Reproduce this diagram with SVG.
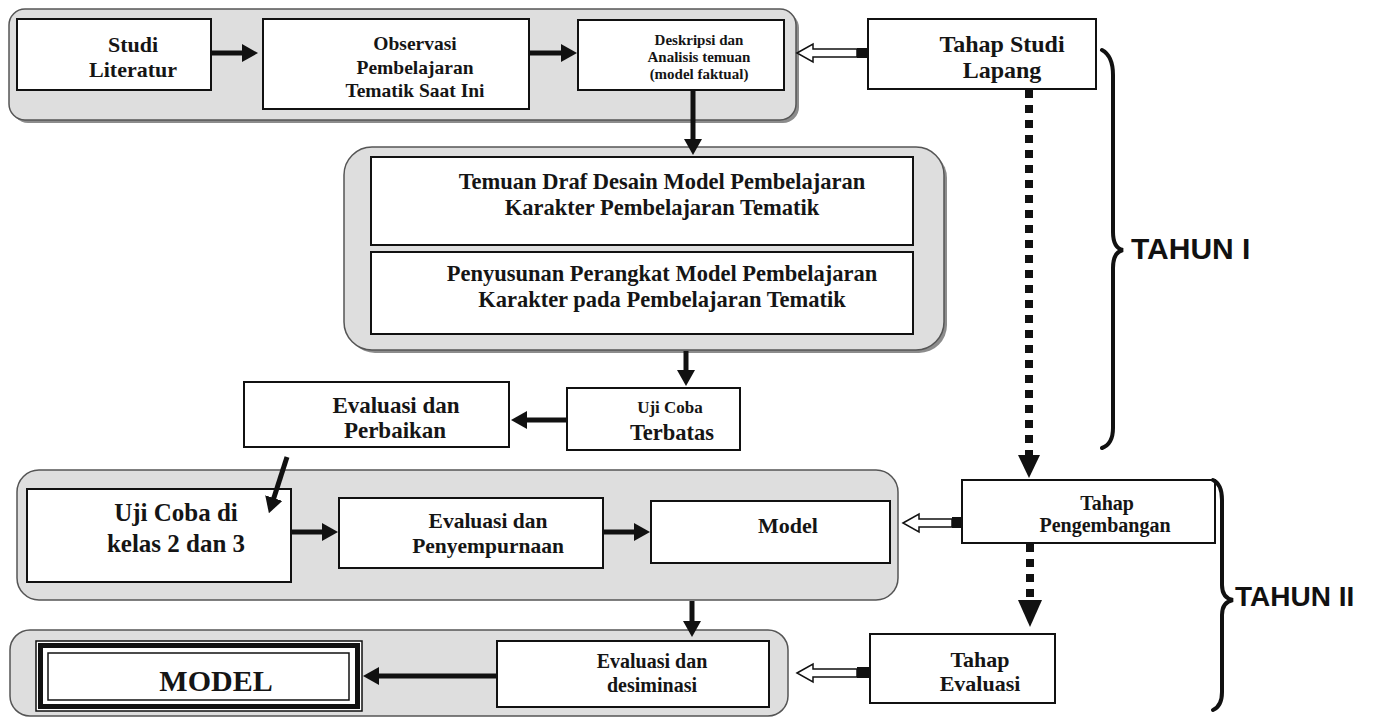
<svg xmlns="http://www.w3.org/2000/svg" width="1377" height="718" viewBox="0 0 1377 718">
<style>
.bg{fill:#fff}
.cont{fill:#dedede;stroke:#555;stroke-width:1.5}
.shadow{fill:#8c8c8c}
.box{fill:#fff;stroke:#111;stroke-width:2}
.t{font-family:"Liberation Serif","Times New Roman",serif;font-weight:bold;fill:#151515;text-anchor:middle}
.yr{font-family:"Liberation Sans",Arial,sans-serif;font-weight:bold;fill:#111}
.arr{stroke:#111;stroke-width:5;fill:none}
.dot{stroke:#111;stroke-width:8;stroke-dasharray:8 7;fill:none}
.hollow{fill:#fff;stroke:#111;stroke-width:1.5}
.brace{fill:none;stroke:#111;stroke-width:4;stroke-linecap:round}
</style>
<defs>
<marker id="ah" markerUnits="userSpaceOnUse" markerWidth="16" markerHeight="18" viewBox="0 0 16 18" refX="1" refY="9" orient="auto">
<path d="M0,0 L16,9 L0,18 z" fill="#111"/>
</marker>
</defs>
<rect class="bg" x="0" y="0" width="1377" height="718"/>

<g id="containers">
<rect class="shadow" x="12" y="12" width="787" height="111" rx="16"/>
<rect class="cont" x="9" y="9" width="787" height="111" rx="16"/>
<rect class="shadow" x="347" y="150" width="600" height="203" rx="28"/>
<rect class="cont" x="344" y="147" width="600" height="203" rx="28"/>
<rect class="cont" x="17" y="470" width="881" height="130" rx="22"/>
<rect class="cont" x="10" y="630" width="778" height="86" rx="20"/>
</g>

<g id="n-studi"><rect class="box" x="17" y="19" width="194" height="71"/>
<text class="t" font-size="22" x="133" y="52">Studi</text><text class="t" font-size="22" x="133" y="77">Literatur</text></g>

<g id="n-observasi"><rect class="box" x="263" y="19" width="266" height="90"/>
<text class="t" font-size="19.5" x="415" y="50">Observasi</text><text class="t" font-size="19.5" x="415" y="74">Pembelajaran</text><text class="t" font-size="19.5" x="415" y="97">Tematik Saat Ini</text></g>

<g id="n-deskripsi"><rect class="box" x="578" y="20" width="206" height="70"/>
<text class="t" font-size="15" x="699" y="45">Deskripsi dan</text><text class="t" font-size="15" x="699" y="62">Analisis temuan</text><text class="t" font-size="15" x="699" y="79">(model faktual)</text></g>

<g id="n-studi-lapang"><rect class="box" x="868" y="19" width="228" height="70"/>
<text class="t" font-size="24" x="1002" y="52">Tahap Studi</text><text class="t" font-size="24" x="1002" y="78">Lapang</text></g>

<g id="n-temuan"><rect class="box" x="371" y="157" width="542" height="88"/>
<text class="t" font-size="22.5" x="662" y="189">Temuan Draf Desain Model Pembelajaran</text><text class="t" font-size="22.5" x="662" y="215">Karakter Pembelajaran Tematik</text></g>

<g id="n-penyusunan"><rect class="box" x="371" y="252" width="542" height="82"/>
<text class="t" font-size="22.5" x="662" y="281">Penyusunan Perangkat Model Pembelajaran</text><text class="t" font-size="22.5" x="662" y="307">Karakter pada Pembelajaran Tematik</text></g>

<g id="n-ujicoba-terbatas"><rect class="box" x="567" y="388" width="173" height="62"/>
<text class="t" font-size="17" x="670" y="413">Uji Coba</text><text class="t" font-size="22.5" x="672" y="440">Terbatas</text></g>

<g id="n-evaluasi-perbaikan"><rect class="box" x="244" y="382" width="265" height="65"/>
<text class="t" font-size="23" x="396" y="413">Evaluasi dan</text><text class="t" font-size="23" x="395" y="438">Perbaikan</text></g>

<g id="n-ujicoba-kelas"><rect class="box" x="27" y="489" width="264" height="93"/>
<text class="t" font-size="25" x="176" y="521">Uji Coba di</text><text class="t" font-size="25" x="176" y="552">kelas 2 dan 3</text></g>

<g id="n-evaluasi-penyempurnaan"><rect class="box" x="339" y="498" width="264" height="70"/>
<text class="t" font-size="21.5" x="488" y="528">Evaluasi dan</text><text class="t" font-size="21.5" x="488" y="553">Penyempurnaan</text></g>

<g id="n-model"><rect class="box" x="651" y="501" width="239" height="62"/>
<text class="t" font-size="22" x="788" y="533">Model</text></g>

<g id="n-pengembangan"><rect class="box" x="962" y="480" width="253" height="63"/>
<text class="t" font-size="20" x="1107" y="510">Tahap</text><text class="t" font-size="20" x="1105" y="532">Pengembangan</text></g>

<g id="n-tahap-evaluasi"><rect class="box" x="870" y="634" width="185" height="69"/>
<text class="t" font-size="22" x="980" y="667">Tahap</text><text class="t" font-size="22" x="980" y="691">Evaluasi</text></g>

<g id="n-desiminasi"><rect class="box" x="497" y="641" width="272" height="66"/>
<text class="t" font-size="20" x="652" y="668">Evaluasi dan</text><text class="t" font-size="20" x="652" y="692">desiminasi</text></g>

<g id="n-MODEL">
<rect x="36" y="641" width="326" height="70" fill="#fff" stroke="#111" stroke-width="1.5"/>
<rect x="40.5" y="645.5" width="317" height="61" fill="none" stroke="#111" stroke-width="5"/>
<rect x="48" y="653" width="301" height="47" fill="#fff" stroke="#111" stroke-width="1.5"/>
<text class="t" font-size="30" x="216" y="691">MODEL</text></g>

<g id="tahun-1">
<path class="brace" d="M1102,50 Q1113,56 1113,75 L1113,232 Q1113,248 1123,250 Q1113,252 1113,268 L1113,428 Q1113,444 1102,448"/>
<text class="yr" font-size="30" x="1131" y="259">TAHUN I</text></g>

<g id="tahun-2">
<path class="brace" d="M1213,480 Q1222,484 1222,500 L1222,585 Q1222,598 1233,600 Q1222,602 1222,615 L1222,692 Q1222,706 1213,710"/>
<text class="yr" font-size="28" x="1235" y="606">TAHUN II</text></g>

<g id="connectors">
<line class="arr" x1="211" y1="53" x2="243" y2="53" marker-end="url(#ah)"/>
<line class="arr" x1="529" y1="53" x2="562" y2="53" marker-end="url(#ah)"/>
<line class="arr" x1="693" y1="90" x2="693" y2="140" marker-end="url(#ah)"/>
<line class="arr" x1="686" y1="351" x2="686" y2="371" marker-end="url(#ah)"/>
<line class="arr" x1="566" y1="420" x2="526" y2="420" marker-end="url(#ah)"/>
<line class="arr" x1="287" y1="457" x2="273.5" y2="499" marker-end="url(#ah)"/>
<line class="arr" x1="292" y1="532" x2="323" y2="532" marker-end="url(#ah)"/>
<line class="arr" x1="604" y1="532" x2="635" y2="532" marker-end="url(#ah)"/>
<line class="arr" x1="692" y1="601" x2="692" y2="622" marker-end="url(#ah)"/>
<line class="arr" x1="496" y1="676" x2="378" y2="676" marker-end="url(#ah)"/>
<polygon class="hollow" points="797,53 813,44 813,49 857,49 857,57 813,57 813,62"/>
<rect x="857" y="48" width="11" height="10" fill="#111"/>
<polygon class="hollow" points="903,523 919,514 919,519 952,519 952,527 919,527 919,532"/>
<rect x="952" y="517" width="11" height="11" fill="#111"/>
<polygon class="hollow" points="797,673 813,664 813,669 857,669 857,677 813,677 813,682"/>
<rect x="857" y="667" width="12" height="11" fill="#111"/>
<line class="dot" x1="1029" y1="90" x2="1029" y2="456"/>
<polygon points="1018,455 1040,455 1029,478" fill="#111"/>
<line class="dot" x1="1030" y1="544" x2="1030" y2="601"/>
<polygon points="1018,600 1042,600 1030,627" fill="#111"/>
</g>
</svg>
